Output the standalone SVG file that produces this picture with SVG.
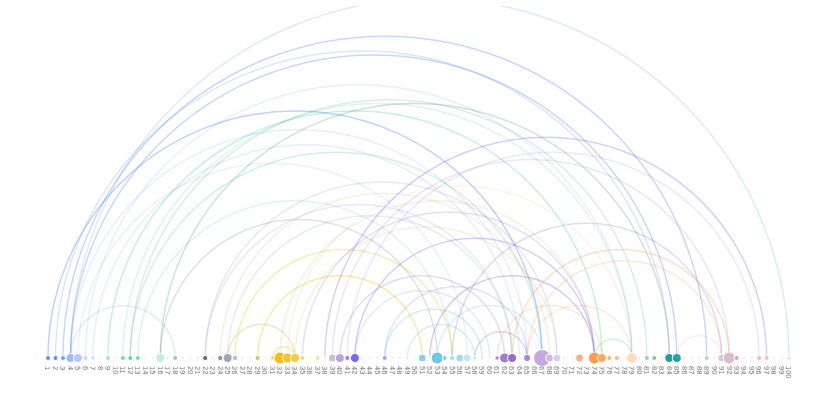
<svg xmlns="http://www.w3.org/2000/svg" width="831" height="417" viewBox="0 0 831 417">
<style>
.bg{fill:#fff}
.arc{fill:none;stroke-width:1.5}
.b{stroke:#5B8FF9}.g{stroke:#5AD8A6}.s{stroke:#5D7092}.t{stroke:#5f9a96}.y{stroke:#F6BD16}.tan{stroke:#d9b46a}
.p{stroke:#7262FD}.k{stroke:#6DC8EC}.v{stroke:#9270CA}.o{stroke:#FF9D4D}.pk{stroke:#FF99C3}.m{stroke:#b59ccf}
.n circle{stroke:#fff;stroke-width:1}
.n text{font-family:"Liberation Sans",Arial,sans-serif;font-size:7.5px;fill:#777}
</style>
<defs><clipPath id="view"><rect x="0" y="6" width="831" height="411"/></clipPath></defs>
<rect class="bg" width="831" height="417"/>
<g id="connectors" clip-path="url(#view)">
<path class="arc b" opacity="0.2" d="M70.5 358A359.25 359.25 0 0 1 789 358"/>
<path class="arc b" opacity="0.35" d="M63 358A321.85 321.85 0 0 1 706.7 358"/>
<path class="arc b" opacity="0.35" d="M70.5 358A303.15 303.15 0 0 1 676.8 358"/>
<path class="arc b" opacity="0.22" d="M55.5 358A306.9 306.9 0 0 1 669.3 358"/>
<path class="arc b" opacity="0.15" d="M85.4 358A273.25 273.25 0 0 1 631.9 358"/>
<path class="arc b" opacity="0.4" d="M48 358A247 247 0 0 1 542 358"/>
<path class="arc b" opacity="0.15" d="M70.5 358A228.3 228.3 0 0 1 527.1 358"/>
<path class="arc b" opacity="0.15" d="M92.9 358A213.35 213.35 0 0 1 519.6 358"/>
<path class="arc b" opacity="0.18" d="M70.5 358A52.35 52.35 0 0 1 175.2 358"/>
<path class="arc b" opacity="0.12" d="M77.9 358A194.65 194.65 0 0 1 467.2 358"/>
<path class="arc g" opacity="0.35" d="M107.9 358A247 247 0 0 1 601.9 358"/>
<path class="arc g" opacity="0.22" d="M122.9 358A254.5 254.5 0 0 1 631.9 358"/>
<path class="arc t" opacity="0.2" d="M130.3 358A258.25 258.25 0 0 1 646.8 358"/>
<path class="arc g" opacity="0.3" d="M130.3 358A205.85 205.85 0 0 1 542 358"/>
<path class="arc g" opacity="0.22" d="M137.8 358A157.2 157.2 0 0 1 452.2 358"/>
<path class="arc t" opacity="0.3" d="M160.3 358A254.5 254.5 0 0 1 669.3 358"/>
<path class="arc s" opacity="0.2" d="M160.3 358A138.45 138.45 0 0 1 437.2 358"/>
<path class="arc s" opacity="0.15" d="M205.2 358A153.45 153.45 0 0 1 512.1 358"/>
<path class="arc m" opacity="0.25" d="M205.2 358A175.9 175.9 0 0 1 557 358"/>
<path class="arc tan" opacity="0.2" d="M220.2 358A164.65 164.65 0 0 1 549.5 358"/>
<path class="arc s" opacity="0.15" d="M227.6 358A142.25 142.25 0 0 1 512.1 358"/>
<path class="arc tan" opacity="0.35" d="M227.6 358A33.7 33.7 0 0 1 295 358"/>
<path class="arc y" opacity="0.35" d="M257.6 358A82.35 82.35 0 0 1 422.3 358"/>
<path class="arc y" opacity="0.3" d="M235.1 358A108.55 108.55 0 0 1 452.2 358"/>
<path class="arc tan" opacity="0.2" d="M280 358A157.2 157.2 0 0 1 594.4 358"/>
<path class="arc tan" opacity="0.15" d="M287.5 358A172.2 172.2 0 0 1 631.9 358"/>
<path class="arc tan" opacity="0.2" d="M295 358A131 131 0 0 1 557 358"/>
<path class="arc y" opacity="0.3" d="M272.6 358A11.2 11.2 0 0 1 295 358"/>
<path class="arc p" opacity="0.3" d="M324.9 358A220.85 220.85 0 0 1 766.6 358"/>
<path class="arc p" opacity="0.2" d="M302.5 358A145.95 145.95 0 0 1 594.4 358"/>
<path class="arc p" opacity="0.3" d="M354.9 358A119.75 119.75 0 0 1 594.4 358"/>
<path class="arc p" opacity="0.2" d="M384.8 358A71.15 71.15 0 0 1 527.1 358"/>
<path class="arc v" opacity="0.25" d="M339.9 358A82.35 82.35 0 0 1 504.6 358"/>
<path class="arc p" opacity="0.15" d="M347.4 358A205.85 205.85 0 0 1 759.1 358"/>
<path class="arc m" opacity="0.25" d="M332.4 358A198.4 198.4 0 0 1 729.2 358"/>
<path class="arc k" opacity="0.3" d="M384.8 358A48.65 48.65 0 0 1 482.1 358"/>
<path class="arc k" opacity="0.3" d="M407.3 358A33.7 33.7 0 0 1 474.7 358"/>
<path class="arc b" opacity="0.18" d="M354.9 358A67.35 67.35 0 0 1 489.6 358"/>
<path class="arc k" opacity="0.25" d="M437.2 358A52.4 52.4 0 0 1 542 358"/>
<path class="arc v" opacity="0.35" d="M429.7 358A82.35 82.35 0 0 1 594.4 358"/>
<path class="arc v" opacity="0.3" d="M474.7 358A26.2 26.2 0 0 1 527.1 358"/>
<path class="arc v" opacity="0.25" d="M452.2 358A134.75 134.75 0 0 1 721.7 358"/>
<path class="arc o" opacity="0.3" d="M512.1 358A108.55 108.55 0 0 1 729.2 358"/>
<path class="arc o" opacity="0.22" d="M527.1 358A97.3 97.3 0 0 1 721.7 358"/>
<path class="arc o" opacity="0.22" d="M497.1 358A52.4 52.4 0 0 1 601.9 358"/>
<path class="arc o" opacity="0.2" d="M527.1 358A52.4 52.4 0 0 1 631.9 358"/>
<path class="arc g" opacity="0.3" d="M594.4 358A18.75 18.75 0 0 1 631.9 358"/>
<path class="arc pk" opacity="0.2" d="M676.8 358A22.45 22.45 0 0 1 721.7 358"/>
</g>
<g class="n">
<g id="n1"><circle cx="48" cy="358" r="2.5" fill="#5B8FF9"/><text transform="translate(48 366) rotate(90)" dy="0.35em">1</text></g>
<g id="n2"><circle cx="55.5" cy="358" r="2.5" fill="#5B8FF9"/><text transform="translate(55.5 366) rotate(90)" dy="0.35em">2</text></g>
<g id="n3"><circle cx="63" cy="358" r="2.5" fill="#6f9cf9"/><text transform="translate(63 366) rotate(90)" dy="0.35em">3</text></g>
<g id="n4"><circle cx="70.5" cy="358" r="4.5" fill="#9dbafb"/><text transform="translate(70.5 366) rotate(90)" dy="0.35em">4</text></g>
<g id="n5"><circle cx="77.9" cy="358" r="4.5" fill="#b3cbfb"/><text transform="translate(77.9 366) rotate(90)" dy="0.35em">5</text></g>
<g id="n6"><circle cx="85.4" cy="358" r="2.5" fill="#c9d9fc"/><text transform="translate(85.4 366) rotate(90)" dy="0.35em">6</text></g>
<g id="n7"><circle cx="92.9" cy="358" r="2.3" fill="#d2dffd"/><text transform="translate(92.9 366) rotate(90)" dy="0.35em">7</text></g>
<g id="n8"><circle cx="100.4" cy="358" r="1.4" fill="#e3ebfd"/><text transform="translate(100.4 366) rotate(90)" dy="0.35em">8</text></g>
<g id="n9"><circle cx="107.9" cy="358" r="2.5" fill="#9fe6c9"/><text transform="translate(107.9 366) rotate(90)" dy="0.35em">9</text></g>
<g id="n10"><circle cx="115.4" cy="358" r="1.4" fill="#d8f5ea"/><text transform="translate(115.4 366) rotate(90)" dy="0.35em">10</text></g>
<g id="n11"><circle cx="122.9" cy="358" r="2.5" fill="#6ddcb0"/><text transform="translate(122.9 366) rotate(90)" dy="0.35em">11</text></g>
<g id="n12"><circle cx="130.3" cy="358" r="2.5" fill="#5AD8A6"/><text transform="translate(130.3 366) rotate(90)" dy="0.35em">12</text></g>
<g id="n13"><circle cx="137.8" cy="358" r="2.5" fill="#75deb5"/><text transform="translate(137.8 366) rotate(90)" dy="0.35em">13</text></g>
<g id="n14"><circle cx="145.3" cy="358" r="1.4" fill="#d8f5ea"/><text transform="translate(145.3 366) rotate(90)" dy="0.35em">14</text></g>
<g id="n15"><circle cx="152.8" cy="358" r="1.4" fill="#d8f5ea"/><text transform="translate(152.8 366) rotate(90)" dy="0.35em">15</text></g>
<g id="n16"><circle cx="160.3" cy="358" r="4.5" fill="#c2eedb"/><text transform="translate(160.3 366) rotate(90)" dy="0.35em">16</text></g>
<g id="n17"><circle cx="167.8" cy="358" r="1.4" fill="#e1e5ec"/><text transform="translate(167.8 366) rotate(90)" dy="0.35em">17</text></g>
<g id="n18"><circle cx="175.2" cy="358" r="2.4" fill="#a5bdbf"/><text transform="translate(175.2 366) rotate(90)" dy="0.35em">18</text></g>
<g id="n19"><circle cx="182.7" cy="358" r="1.4" fill="#e1e5ec"/><text transform="translate(182.7 366) rotate(90)" dy="0.35em">19</text></g>
<g id="n20"><circle cx="190.2" cy="358" r="1.4" fill="#e1e5ec"/><text transform="translate(190.2 366) rotate(90)" dy="0.35em">20</text></g>
<g id="n21"><circle cx="197.7" cy="358" r="1.4" fill="#e1e5ec"/><text transform="translate(197.7 366) rotate(90)" dy="0.35em">21</text></g>
<g id="n22"><circle cx="205.2" cy="358" r="2.6" fill="#5D7092"/><text transform="translate(205.2 366) rotate(90)" dy="0.35em">22</text></g>
<g id="n23"><circle cx="212.7" cy="358" r="1.4" fill="#e1e5ec"/><text transform="translate(212.7 366) rotate(90)" dy="0.35em">23</text></g>
<g id="n24"><circle cx="220.2" cy="358" r="2.6" fill="#8591aa"/><text transform="translate(220.2 366) rotate(90)" dy="0.35em">24</text></g>
<g id="n25"><circle cx="227.6" cy="358" r="4.5" fill="#9ba6bb"/><text transform="translate(227.6 366) rotate(90)" dy="0.35em">25</text></g>
<g id="n26"><circle cx="235.1" cy="358" r="2.6" fill="#b4bccc"/><text transform="translate(235.1 366) rotate(90)" dy="0.35em">26</text></g>
<g id="n27"><circle cx="242.6" cy="358" r="1.4" fill="#e1e5ec"/><text transform="translate(242.6 366) rotate(90)" dy="0.35em">27</text></g>
<g id="n28"><circle cx="250.1" cy="358" r="1.4" fill="#fdf0c8"/><text transform="translate(250.1 366) rotate(90)" dy="0.35em">28</text></g>
<g id="n29"><circle cx="257.6" cy="358" r="2.6" fill="#dcc17c"/><text transform="translate(257.6 366) rotate(90)" dy="0.35em">29</text></g>
<g id="n30"><circle cx="265.1" cy="358" r="1.4" fill="#fdf0c8"/><text transform="translate(265.1 366) rotate(90)" dy="0.35em">30</text></g>
<g id="n31"><circle cx="272.6" cy="358" r="2" fill="#f8ca45"/><text transform="translate(272.6 366) rotate(90)" dy="0.35em">31</text></g>
<g id="n32"><circle cx="280" cy="358" r="6" fill="#F6BD16"/><text transform="translate(280 366) rotate(90)" dy="0.35em">32</text></g>
<g id="n33"><circle cx="287.5" cy="358" r="5" fill="#f7c22e"/><text transform="translate(287.5 366) rotate(90)" dy="0.35em">33</text></g>
<g id="n34"><circle cx="295" cy="358" r="4.5" fill="#f8c840"/><text transform="translate(295 366) rotate(90)" dy="0.35em">34</text></g>
<g id="n35"><circle cx="302.5" cy="358" r="2.2" fill="#f9d360"/><text transform="translate(302.5 366) rotate(90)" dy="0.35em">35</text></g>
<g id="n36"><circle cx="310" cy="358" r="1.4" fill="#fdf0c8"/><text transform="translate(310 366) rotate(90)" dy="0.35em">36</text></g>
<g id="n37"><circle cx="317.5" cy="358" r="2.5" fill="#fbe0a0"/><text transform="translate(317.5 366) rotate(90)" dy="0.35em">37</text></g>
<g id="n38"><circle cx="324.9" cy="358" r="1.4" fill="#e3dffd"/><text transform="translate(324.9 366) rotate(90)" dy="0.35em">38</text></g>
<g id="n39"><circle cx="332.4" cy="358" r="4" fill="#cdbfd2"/><text transform="translate(332.4 366) rotate(90)" dy="0.35em">39</text></g>
<g id="n40"><circle cx="339.9" cy="358" r="4.5" fill="#b7a6df"/><text transform="translate(339.9 366) rotate(90)" dy="0.35em">40</text></g>
<g id="n41"><circle cx="347.4" cy="358" r="2.6" fill="#9a88f0"/><text transform="translate(347.4 366) rotate(90)" dy="0.35em">41</text></g>
<g id="n42"><circle cx="354.9" cy="358" r="4.5" fill="#7b68ee"/><text transform="translate(354.9 366) rotate(90)" dy="0.35em">42</text></g>
<g id="n43"><circle cx="362.4" cy="358" r="1.4" fill="#e3dffd"/><text transform="translate(362.4 366) rotate(90)" dy="0.35em">43</text></g>
<g id="n44"><circle cx="369.9" cy="358" r="1.4" fill="#e3dffd"/><text transform="translate(369.9 366) rotate(90)" dy="0.35em">44</text></g>
<g id="n45"><circle cx="377.3" cy="358" r="1.4" fill="#e3dffd"/><text transform="translate(377.3 366) rotate(90)" dy="0.35em">45</text></g>
<g id="n46"><circle cx="384.8" cy="358" r="2.5" fill="#ad9ff5"/><text transform="translate(384.8 366) rotate(90)" dy="0.35em">46</text></g>
<g id="n47"><circle cx="392.3" cy="358" r="1.4" fill="#e3dffd"/><text transform="translate(392.3 366) rotate(90)" dy="0.35em">47</text></g>
<g id="n48"><circle cx="399.8" cy="358" r="1.4" fill="#e3dffd"/><text transform="translate(399.8 366) rotate(90)" dy="0.35em">48</text></g>
<g id="n49"><circle cx="407.3" cy="358" r="1.4" fill="#e3dffd"/><text transform="translate(407.3 366) rotate(90)" dy="0.35em">49</text></g>
<g id="n50"><circle cx="414.8" cy="358" r="1.4" fill="#e2f3fa"/><text transform="translate(414.8 366) rotate(90)" dy="0.35em">50</text></g>
<g id="n51"><circle cx="422.3" cy="358" r="4" fill="#8fcdf0"/><text transform="translate(422.3 366) rotate(90)" dy="0.35em">51</text></g>
<g id="n52"><circle cx="429.7" cy="358" r="1.4" fill="#e2f3fa"/><text transform="translate(429.7 366) rotate(90)" dy="0.35em">52</text></g>
<g id="n53"><circle cx="437.2" cy="358" r="6" fill="#6DC8EC"/><text transform="translate(437.2 366) rotate(90)" dy="0.35em">53</text></g>
<g id="n54"><circle cx="444.7" cy="358" r="2.5" fill="#86d1ef"/><text transform="translate(444.7 366) rotate(90)" dy="0.35em">54</text></g>
<g id="n55"><circle cx="452.2" cy="358" r="2.5" fill="#a3dbf3"/><text transform="translate(452.2 366) rotate(90)" dy="0.35em">55</text></g>
<g id="n56"><circle cx="459.7" cy="358" r="4" fill="#a3d9f2"/><text transform="translate(459.7 366) rotate(90)" dy="0.35em">56</text></g>
<g id="n57"><circle cx="467.2" cy="358" r="4" fill="#bfe5f6"/><text transform="translate(467.2 366) rotate(90)" dy="0.35em">57</text></g>
<g id="n58"><circle cx="474.7" cy="358" r="2.2" fill="#cde9f7"/><text transform="translate(474.7 366) rotate(90)" dy="0.35em">58</text></g>
<g id="n59"><circle cx="482.1" cy="358" r="2" fill="#d6ecf8"/><text transform="translate(482.1 366) rotate(90)" dy="0.35em">59</text></g>
<g id="n60"><circle cx="489.6" cy="358" r="1.4" fill="#e2f3fa"/><text transform="translate(489.6 366) rotate(90)" dy="0.35em">60</text></g>
<g id="n61"><circle cx="497.1" cy="358" r="2.2" fill="#a68bd3"/><text transform="translate(497.1 366) rotate(90)" dy="0.35em">61</text></g>
<g id="n62"><circle cx="504.6" cy="358" r="5" fill="#9d7fce"/><text transform="translate(504.6 366) rotate(90)" dy="0.35em">62</text></g>
<g id="n63"><circle cx="512.1" cy="358" r="4.5" fill="#9270CA"/><text transform="translate(512.1 366) rotate(90)" dy="0.35em">63</text></g>
<g id="n64"><circle cx="519.6" cy="358" r="1.4" fill="#ebe3f3"/><text transform="translate(519.6 366) rotate(90)" dy="0.35em">64</text></g>
<g id="n65"><circle cx="527.1" cy="358" r="3.6" fill="#a488d4"/><text transform="translate(527.1 366) rotate(90)" dy="0.35em">65</text></g>
<g id="n66"><circle cx="534.5" cy="358" r="1.4" fill="#ebe3f3"/><text transform="translate(534.5 366) rotate(90)" dy="0.35em">66</text></g>
<g id="n67"><circle cx="542" cy="358" r="8.5" fill="#c4a9de"/><text transform="translate(542 366) rotate(90)" dy="0.35em">67</text></g>
<g id="n68"><circle cx="549.5" cy="358" r="4" fill="#cdbbe3"/><text transform="translate(549.5 366) rotate(90)" dy="0.35em">68</text></g>
<g id="n69"><circle cx="557" cy="358" r="4" fill="#ddcde9"/><text transform="translate(557 366) rotate(90)" dy="0.35em">69</text></g>
<g id="n70"><circle cx="564.5" cy="358" r="1.4" fill="#ebe3f3"/><text transform="translate(564.5 366) rotate(90)" dy="0.35em">70</text></g>
<g id="n71"><circle cx="572" cy="358" r="1.4" fill="#ffe8d6"/><text transform="translate(572 366) rotate(90)" dy="0.35em">71</text></g>
<g id="n72"><circle cx="579.5" cy="358" r="4" fill="#f7b089"/><text transform="translate(579.5 366) rotate(90)" dy="0.35em">72</text></g>
<g id="n73"><circle cx="586.9" cy="358" r="1.4" fill="#ffe8d6"/><text transform="translate(586.9 366) rotate(90)" dy="0.35em">73</text></g>
<g id="n74"><circle cx="594.4" cy="358" r="6" fill="#FF9D4D"/><text transform="translate(594.4 366) rotate(90)" dy="0.35em">74</text></g>
<g id="n75"><circle cx="601.9" cy="358" r="4.5" fill="#ffa862"/><text transform="translate(601.9 366) rotate(90)" dy="0.35em">75</text></g>
<g id="n76"><circle cx="609.4" cy="358" r="2.5" fill="#ffb274"/><text transform="translate(609.4 366) rotate(90)" dy="0.35em">76</text></g>
<g id="n77"><circle cx="616.9" cy="358" r="2.5" fill="#ffb87e"/><text transform="translate(616.9 366) rotate(90)" dy="0.35em">77</text></g>
<g id="n78"><circle cx="624.4" cy="358" r="1.4" fill="#ffe8d6"/><text transform="translate(624.4 366) rotate(90)" dy="0.35em">78</text></g>
<g id="n79"><circle cx="631.9" cy="358" r="5.5" fill="#ffdcc0"/><text transform="translate(631.9 366) rotate(90)" dy="0.35em">79</text></g>
<g id="n80"><circle cx="639.3" cy="358" r="1.4" fill="#d2ebeb"/><text transform="translate(639.3 366) rotate(90)" dy="0.35em">80</text></g>
<g id="n81"><circle cx="646.8" cy="358" r="2.5" fill="#a3c7b9"/><text transform="translate(646.8 366) rotate(90)" dy="0.35em">81</text></g>
<g id="n82"><circle cx="654.3" cy="358" r="2.5" fill="#8fbeae"/><text transform="translate(654.3 366) rotate(90)" dy="0.35em">82</text></g>
<g id="n83"><circle cx="661.8" cy="358" r="1.4" fill="#d2ebeb"/><text transform="translate(661.8 366) rotate(90)" dy="0.35em">83</text></g>
<g id="n84"><circle cx="669.3" cy="358" r="4.5" fill="#269A99"/><text transform="translate(669.3 366) rotate(90)" dy="0.35em">84</text></g>
<g id="n85"><circle cx="676.8" cy="358" r="4.5" fill="#2c9f9e"/><text transform="translate(676.8 366) rotate(90)" dy="0.35em">85</text></g>
<g id="n86"><circle cx="684.2" cy="358" r="1.4" fill="#d2ebeb"/><text transform="translate(684.2 366) rotate(90)" dy="0.35em">86</text></g>
<g id="n87"><circle cx="691.7" cy="358" r="1.4" fill="#d2ebeb"/><text transform="translate(691.7 366) rotate(90)" dy="0.35em">87</text></g>
<g id="n88"><circle cx="699.2" cy="358" r="1.4" fill="#d2ebeb"/><text transform="translate(699.2 366) rotate(90)" dy="0.35em">88</text></g>
<g id="n89"><circle cx="706.7" cy="358" r="2.5" fill="#a6d5d5"/><text transform="translate(706.7 366) rotate(90)" dy="0.35em">89</text></g>
<g id="n90"><circle cx="714.2" cy="358" r="1.4" fill="#ffe6f0"/><text transform="translate(714.2 366) rotate(90)" dy="0.35em">90</text></g>
<g id="n91"><circle cx="721.7" cy="358" r="4" fill="#d3ccd4"/><text transform="translate(721.7 366) rotate(90)" dy="0.35em">91</text></g>
<g id="n92"><circle cx="729.2" cy="358" r="6" fill="#dbbbd0"/><text transform="translate(729.2 366) rotate(90)" dy="0.35em">92</text></g>
<g id="n93"><circle cx="736.6" cy="358" r="2.5" fill="#ec9fc8"/><text transform="translate(736.6 366) rotate(90)" dy="0.35em">93</text></g>
<g id="n94"><circle cx="744.1" cy="358" r="1.4" fill="#ffe6f0"/><text transform="translate(744.1 366) rotate(90)" dy="0.35em">94</text></g>
<g id="n95"><circle cx="751.6" cy="358" r="1.4" fill="#ffe6f0"/><text transform="translate(751.6 366) rotate(90)" dy="0.35em">95</text></g>
<g id="n96"><circle cx="759.1" cy="358" r="2.5" fill="#ffa8cc"/><text transform="translate(759.1 366) rotate(90)" dy="0.35em">96</text></g>
<g id="n97"><circle cx="766.6" cy="358" r="2.5" fill="#ffb2d2"/><text transform="translate(766.6 366) rotate(90)" dy="0.35em">97</text></g>
<g id="n98"><circle cx="774.1" cy="358" r="1.4" fill="#ffe6f0"/><text transform="translate(774.1 366) rotate(90)" dy="0.35em">98</text></g>
<g id="n99"><circle cx="781.5" cy="358" r="1.4" fill="#ffe6f0"/><text transform="translate(781.5 366) rotate(90)" dy="0.35em">99</text></g>
<g id="n100"><circle cx="789" cy="358" r="2.2" fill="#ffd8e8"/><text transform="translate(789 366) rotate(90)" dy="0.35em">100</text></g>
</g>
</svg>
